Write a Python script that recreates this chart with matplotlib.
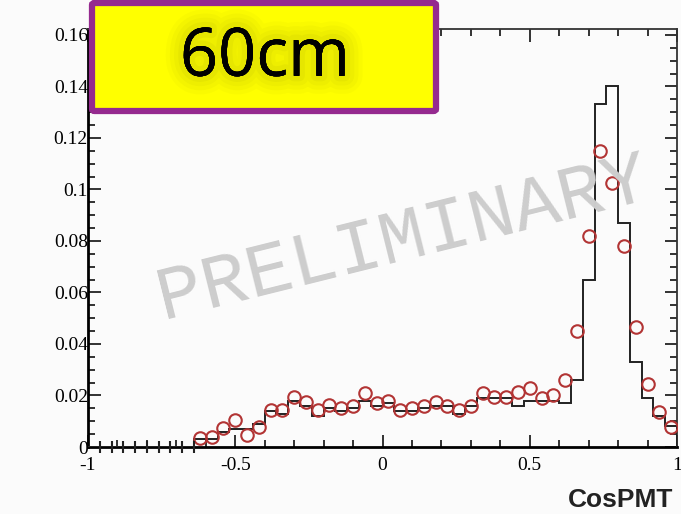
import numpy as np
import matplotlib
matplotlib.use('Agg')
import matplotlib.pyplot as plt
from matplotlib.patches import FancyBboxPatch
from matplotlib.ticker import MultipleLocator, AutoMinorLocator, FixedLocator
import matplotlib.patheffects as pe

# binning: 50 bins of CosPMT between -1 and 1
bin_lo, bin_hi, n_bins = -1.0, 1.0, 50

# MC histogram (black steps), one value per bin
mc = [0, 0, 0, 0, 0, 0, 0, 0, 0,
      0.003, 0.003, 0.006, 0.007, 0.007, 0.009, 0.014, 0.013, 0.018, 0.016,
      0.012, 0.015, 0.014, 0.015, 0.018, 0.016, 0.017, 0.014, 0.014, 0.015,
      0.016, 0.016, 0.013, 0.016, 0.019, 0.019, 0.019, 0.016, 0.018, 0.018,
      0.018, 0.017, 0.026, 0.065, 0.133, 0.140, 0.087, 0.033, 0.019, 0.012,
      0.008]

# data points (red open circles), bins 9..49
data_first_bin = 9
data = [0.0034, 0.004, 0.0074, 0.0105, 0.0047, 0.0078, 0.0144, 0.0144,
        0.0194, 0.0175, 0.0144, 0.0163,
        0.015, 0.016, 0.021, 0.017, 0.018, 0.0144, 0.015, 0.016, 0.0175,
        0.016, 0.0144, 0.016, 0.021, 0.0195, 0.0195, 0.0214, 0.023, 0.019,
        0.020,
        0.026, 0.045, 0.082, 0.115, 0.1025, 0.078, 0.0466, 0.0245, 0.0136,
        0.0078]

x_ticks = [-1, -0.5, 0, 0.5, 1]
x_ticklabels = ['-1', '-0.5', '0', '0.5', '1']
y_ticks = [0, 0.02, 0.04, 0.06, 0.08, 0.1, 0.12, 0.14, 0.16]
y_ticklabels = ['0', '0.02', '0.04', '0.06', '0.08', '0.1', '0.12', '0.14', '0.16']

edges = np.linspace(bin_lo, bin_hi, n_bins + 1)
centers = 0.5 * (edges[:-1] + edges[1:])
mc = np.array(mc)
data_x = centers[data_first_bin:data_first_bin + len(data)]

bg = '#fbfbfb'
fig = plt.figure(figsize=(6.81, 5.14), dpi=100, facecolor=bg)
ax = fig.add_axes([88/681, 1 - 447/514, (677-88)/681, (447-29)/514])
ax.set_facecolor(bg)

ax.stairs(mc, edges, color='#222222', lw=1.4, zorder=3)
ax.plot(data_x, data, 'o', ms=9, mfc='none', mec='#b23434', mew=1.5, zorder=4)

# little marks for the empty bins along zero
empty_edges = edges[1:][:data_first_bin]
ax.plot(empty_edges, np.zeros_like(empty_edges), '|', ms=8, mew=1.5,
        color='#222222', zorder=4, clip_on=False)

ax.set_xlim(bin_lo, bin_hi)
ax.set_ylim(0, 0.1623)

ax.xaxis.set_major_locator(FixedLocator(x_ticks))
ax.set_xticklabels(x_ticklabels)
ax.xaxis.set_minor_locator(MultipleLocator(0.1))
ax.yaxis.set_major_locator(FixedLocator(y_ticks))
ax.set_yticklabels(y_ticklabels)
ax.yaxis.set_minor_locator(AutoMinorLocator(4))

ax.tick_params(which='both', direction='in', top=True, right=True,
               labelsize=14, width=1.3, color='#222222')
ax.tick_params(which='major', length=9)
ax.tick_params(which='minor', length=5)
ax.tick_params(axis='y', pad=0)
ax.tick_params(axis='x', pad=7)
for lab in ax.get_xticklabels() + ax.get_yticklabels():
    lab.set_family('Liberation Serif')

for side in ['left', 'bottom']:
    ax.spines[side].set_linewidth(2.0)
for side in ['top', 'right']:
    ax.spines[side].set_linewidth(1.3)
    ax.spines[side].set_color('#333333')

# watermark
fig.text(0.592, 0.535, 'PRELIMINARY', family='Liberation Mono', fontsize=55,
         color='#cdcdcd', rotation=14, rotation_mode='anchor',
         ha='center', va='center', zorder=1)

fig.text(673/681, 1 - 507/514, 'CosPMT', family='Liberation Sans',
         weight='bold', fontsize=19, ha='right', va='baseline', color='#222222')

# yellow label box
box = FancyBboxPatch((92/681, 1 - 111/514), (436-92)/681, (111-3)/514,
                     boxstyle='round,pad=0,rounding_size=0.004',
                     transform=fig.transFigure, facecolor='#ffff00',
                     edgecolor='#952a8f', lw=4.5, zorder=10)
fig.add_artist(box)
glow = [pe.withStroke(linewidth=w, foreground='#8f8f00', alpha=a)
        for w, a in [(26, 0.04), (20, 0.05), (14, 0.06), (8, 0.08)]]
fig.text(265/681, 1 - 58/514, '60cm', family='Open Sans', fontsize=48,
         ha='center', va='center', color='black', zorder=11,
         path_effects=glow + [pe.Normal()])

fig.savefig('out.png', dpi=100, facecolor=bg)
